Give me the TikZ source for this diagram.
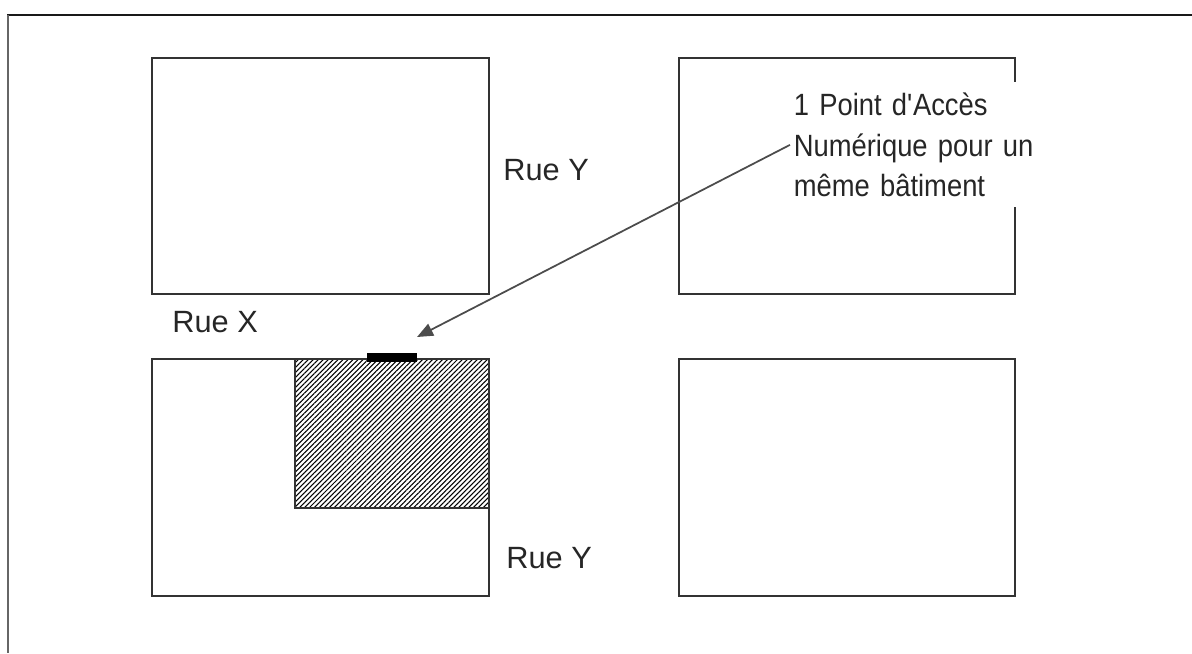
\documentclass[tikz,border=0pt]{standalone}
\usepackage{fontspec}
\setmainfont{Liberation Sans}
\newfontfamily\legende[FakeStretch=0.89]{Liberation Sans}
\usetikzlibrary{patterns.meta}
\usetikzlibrary{arrows.meta}

\begin{document}
\begin{tikzpicture}[x=0.02cm,y=-0.02cm,
                    bloc/.style={draw=black!80,line width=1.1pt},
                    rue/.style={anchor=west,inner sep=0pt,text=black!85,font=\fontsize{17.5}{22.8}\selectfont},
                    fleche/.style={draw=black!70,line width=1pt,-{Triangle[length=0.32cm,width=0.26cm]}}]
                    \useasboundingbox (0,0) rectangle (1192,653);
                    % cadre
                    \draw[black!90,line width=1.5pt] (7,15) -- (1192,15);
                    \draw[black!60,line width=1.1pt] (8,15) -- (8,653);
                    % batiments
                    \draw[bloc] (152,58) rectangle (489,294);
                    \draw[bloc] (679,58) rectangle (1015,294);
                    \draw[bloc] (152,359) rectangle (489,596);
                    \draw[bloc] (679,359) rectangle (1015,596);
                    \draw[bloc,line width=0.8pt,pattern={Lines[angle=45,distance=2pt,line width=0.6pt]}] (295,359) rectangle (489,508);
                    \fill[black] (367,353) rectangle (417,362);
                    % rues
                    \node[rue] (rueY) at (503,170) {Rue Y};
                    \node[rue] (rueX) at (172,322) {Rue X};
                    \node[rue] (rueYb) at (506,558) {Rue Y};
                    % legende
                    \node[fill=white,anchor=north west,inner ysep=0pt,inner xsep=2pt,
                          text width=7cm,minimum height=2.5cm,align=left,
                          text=black!85,font=\legende\fontsize{17.5}{22.8}\selectfont] (pan) at (790,82)
                          {1 Point d\textquotesingle Accès\\Numérique pour un\\même bâtiment};
                    \coordinate (acces) at (417,337);
                    \draw[fleche] (pan.west) -- (acces);
                \end{tikzpicture}
\end{document}
